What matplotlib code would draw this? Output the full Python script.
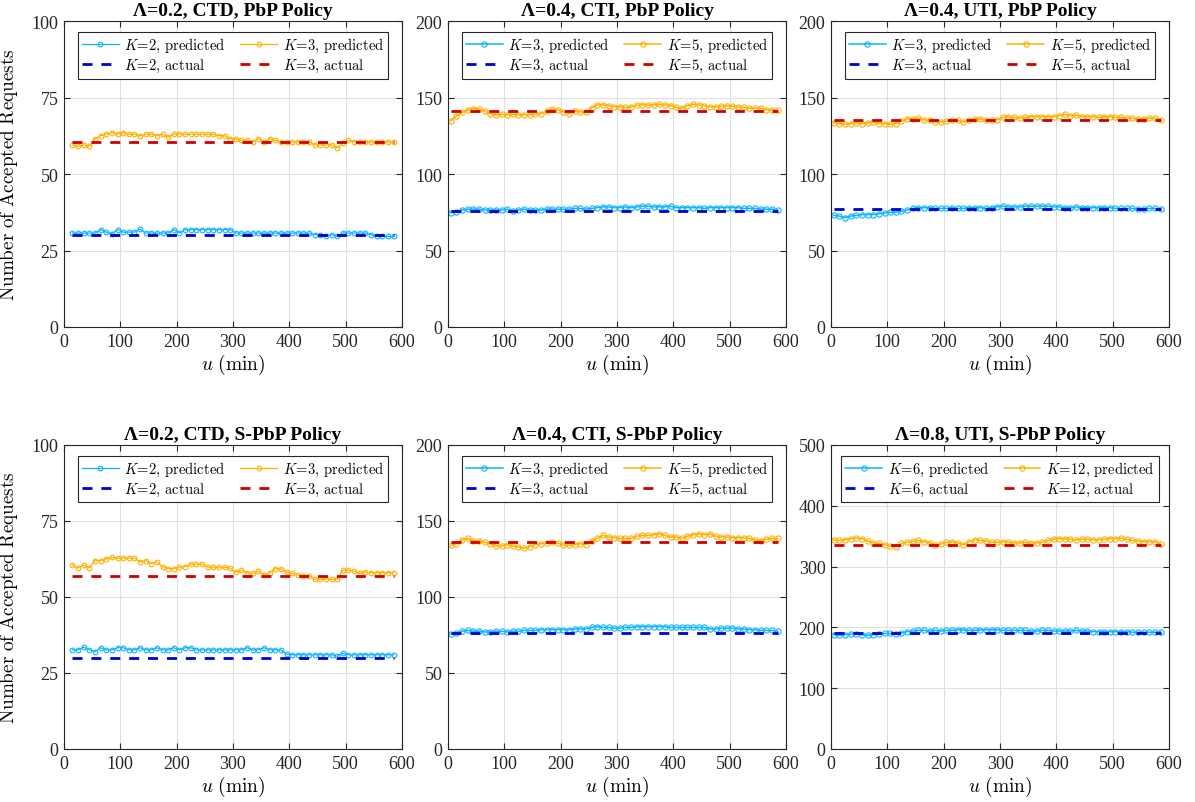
import matplotlib
matplotlib.use('Agg')
import matplotlib.pyplot as plt

plt.rcParams['font.family'] = ['Liberation Serif', 'DejaVu Serif']
plt.rcParams['mathtext.fontset'] = 'cm'

# time stamps (min)
u_sparse = [15, 25, 35, 45, 55, 65, 75, 85, 95, 105, 115, 125, 135, 145, 155, 165, 175, 185, 195, 205,
            215, 225, 235, 245, 255, 265, 275, 285, 295, 305, 315, 325, 335, 345, 355, 365, 375, 385, 395, 405,
            415, 425, 435, 445, 455, 465, 475, 485, 495, 505, 515, 525, 535, 545, 555, 565, 575, 585]
u_dense = [5, 15, 25, 35, 45, 55, 65, 75, 85, 95, 105, 115, 125, 135, 145, 155, 165, 175, 185, 195, 205,
           215, 225, 235, 245, 255, 265, 275, 285, 295, 305, 315, 325, 335, 345, 355, 365, 375, 385, 395, 405,
           415, 425, 435, 445, 455, 465, 475, 485, 495, 505, 515, 525, 535, 545, 555, 565, 575, 585]

# Lambda=0.2, CTD, PbP
pbp_ctd_lo = [30.7, 30.7, 30.7, 30.7, 30.7, 31.8, 31.0, 30.5, 31.8, 31.0, 31.0, 31.0, 32.0, 30.7, 30.7, 30.7,
              30.7, 30.7, 31.8, 30.7, 31.8, 31.8, 31.8, 31.8, 31.8, 31.8, 31.8, 31.8, 31.8, 30.7, 30.7, 30.7,
              30.7, 30.7, 30.7, 30.7, 30.7, 30.7, 30.7, 30.7, 30.7, 30.7, 30.7, 30.2, 30.2, 29.8, 30.2, 29.6,
              30.7, 30.7, 30.7, 30.7, 30.7, 30.2, 29.6, 29.6, 29.6, 29.6]
pbp_ctd_hi = [59.5, 59.0, 59.5, 59.0, 61.5, 62.5, 63.0, 63.5, 63.0, 63.5, 63.0, 63.0, 62.5, 63.0, 63.0, 62.5,
              63.0, 62.0, 63.0, 63.0, 63.0, 63.0, 63.0, 63.0, 63.0, 63.0, 62.5, 62.5, 61.5, 61.5, 61.0, 61.0,
              60.5, 61.5, 60.5, 61.5, 61.0, 60.5, 60.5, 60.5, 60.5, 60.5, 60.5, 59.5, 59.5, 59.5, 59.5, 58.5,
              60.0, 61.0, 60.5, 60.5, 60.5, 60.5, 60.5, 60.5, 60.5, 60.5]

# Lambda=0.4, CTI, PbP
pbp_cti_lo = [74.8, 75.0, 76.5, 77.0, 77.0, 77.0, 76.5, 76.5, 76.5, 76.5, 77.0, 76.0, 76.5, 77.0, 76.5, 76.5,
              76.5, 77.0, 77.0, 77.0, 77.0, 77.0, 77.5, 77.5, 77.0, 77.5, 78.0, 78.5, 78.5, 78.0, 78.0, 78.5,
              78.0, 78.5, 79.0, 79.0, 78.5, 78.5, 78.5, 79.0, 78.0, 78.0, 78.0, 78.0, 78.0, 77.5, 78.0, 78.0,
              78.0, 78.0, 78.0, 78.0, 77.5, 77.5, 77.5, 77.0, 77.0, 77.0, 76.5]
pbp_cti_hi = [134.7, 137.9, 140.2, 141.9, 142.8, 142.4, 141.2, 139.5, 138.6, 139.0, 138.6, 139.0, 138.6, 138.6,
              138.6, 139.0, 139.5, 141.2, 142.4, 141.9, 140.6, 139.5, 141.2, 140.6, 140.2, 143.1, 145.2, 145.2,
              144.6, 143.9, 143.9, 143.5, 143.9, 145.0, 145.2, 145.0, 145.2, 145.6, 145.2, 144.6, 143.5, 143.1,
              144.6, 145.6, 145.2, 144.6, 143.9, 143.9, 144.4, 144.4, 144.4, 143.9, 143.5, 143.1, 143.1, 143.1,
              141.9, 141.9, 141.9]

# Lambda=0.4, UTI, PbP
pbp_uti_lo = [73.0, 72.5, 71.5, 72.5, 73.0, 73.5, 73.5, 73.5, 74.0, 74.5, 75.0, 75.0, 75.5, 76.5, 77.5, 78.0,
              78.0, 78.0, 77.5, 77.5, 77.5, 78.0, 77.5, 77.5, 78.0, 78.0, 78.0, 77.5, 78.0, 78.5, 79.0, 78.5,
              78.5, 78.5, 79.0, 79.0, 79.0, 79.0, 79.0, 78.5, 78.5, 78.0, 78.0, 78.5, 78.0, 78.0, 78.0, 78.0,
              78.0, 78.0, 77.5, 77.5, 77.5, 77.5, 77.0, 77.0, 77.5, 77.5, 77.0]
pbp_uti_hi = [133.5, 133.0, 132.5, 133.0, 133.5, 133.0, 133.5, 134.0, 133.0, 133.0, 132.5, 133.0, 134.5, 136.0,
              136.0, 136.5, 135.5, 135.0, 134.0, 134.0, 134.5, 135.0, 135.0, 134.0, 135.5, 136.0, 136.0, 135.0,
              135.0, 135.5, 137.0, 137.5, 137.0, 136.5, 137.0, 137.5, 137.5, 137.5, 137.5, 137.5, 138.0, 139.0,
              138.0, 138.5, 137.5, 137.5, 137.5, 137.0, 137.5, 137.5, 137.0, 137.0, 136.5, 136.5, 136.0, 136.0,
              136.5, 136.5, 135.5]

# Lambda=0.2, CTD, S-PbP
spbp_ctd_lo = [32.6, 32.6, 33.5, 32.6, 32.0, 33.3, 32.6, 32.6, 33.3, 33.3, 32.6, 32.6, 33.3, 32.6, 32.6, 33.3,
               32.6, 32.6, 33.3, 32.6, 33.3, 33.3, 32.6, 32.6, 32.6, 32.6, 32.6, 32.6, 32.6, 32.6, 32.6, 33.3,
               32.6, 32.6, 33.3, 32.6, 32.6, 32.6, 31.2, 31.0, 31.0, 31.0, 31.0, 31.0, 31.0, 31.0, 31.0, 30.5,
               31.5, 31.0, 31.0, 31.0, 31.0, 31.0, 31.0, 31.0, 31.0, 31.0]
spbp_ctd_hi = [60.5, 59.5, 60.5, 59.5, 62.0, 62.0, 62.5, 63.0, 62.8, 62.8, 62.8, 62.8, 61.5, 62.0, 61.0, 61.5,
               60.0, 59.3, 59.3, 59.8, 60.0, 60.8, 60.8, 60.8, 59.8, 59.8, 59.8, 59.8, 59.5, 58.2, 58.8, 58.0,
               57.8, 58.5, 57.2, 58.0, 59.3, 59.3, 58.3, 57.8, 57.2, 57.0, 57.0, 55.8, 55.8, 56.0, 55.8, 55.8,
               58.8, 58.8, 58.5, 57.8, 58.2, 58.0, 58.0, 58.0, 58.0, 58.0]

# Lambda=0.4, CTI, S-PbP
spbp_cti_lo = [75.5, 76.5, 77.5, 78.0, 77.5, 77.5, 77.0, 77.0, 77.5, 77.5, 77.0, 77.5, 77.5, 78.0, 78.0, 78.0,
               78.5, 78.5, 78.5, 78.5, 78.5, 78.5, 79.0, 79.0, 79.0, 80.0, 80.5, 80.0, 80.0, 79.5, 79.5, 80.0,
               80.0, 80.5, 80.5, 80.5, 80.5, 80.5, 80.5, 80.0, 80.0, 80.0, 80.0, 80.0, 80.0, 80.0, 79.0, 79.0,
               79.5, 79.5, 79.5, 79.0, 79.0, 78.5, 78.5, 78.0, 78.0, 78.0, 77.5]
spbp_cti_hi = [134.0, 135.0, 137.5, 138.5, 137.0, 137.0, 136.0, 135.0, 133.5, 133.5, 134.5, 133.5, 133.0, 132.0,
               133.0, 134.5, 135.0, 135.5, 136.0, 135.5, 134.0, 134.0, 134.5, 135.0, 134.5, 137.0, 138.5, 140.5,
               139.5, 139.0, 138.5, 138.5, 138.5, 140.0, 140.5, 140.5, 141.0, 141.5, 140.5, 139.5, 139.5, 138.5,
               140.0, 141.0, 141.5, 141.0, 141.5, 140.0, 139.5, 139.5, 139.0, 139.0, 139.0, 138.5, 137.5, 137.0,
               138.0, 138.5, 138.5]

# Lambda=0.8, UTI, S-PbP
spbp_uti_lo = [188, 187, 188, 189, 189, 188, 187, 188, 189, 190, 190, 189, 191, 193, 194, 195, 195, 194, 195,
               194, 195, 195, 196, 196, 195, 195, 196, 196, 196, 196, 195, 195, 195, 195, 195, 194, 194, 195,
               195, 194, 194, 194, 194, 195, 194, 194, 193, 193, 193, 193, 193, 193, 193, 192, 192, 192, 192,
               192, 193]
spbp_uti_hi = [344, 343, 344, 346, 347, 346, 342, 339, 338, 336, 334, 333, 338, 340, 342, 343, 341, 339, 336,
               337, 340, 341, 339, 336, 341, 344, 343, 342, 340, 340, 341, 340, 339, 339, 340, 339, 339, 340,
               343, 345, 346, 346, 345, 344, 345, 345, 344, 344, 345, 346, 346, 347, 345, 343, 342, 341, 341,
               341, 337]

titles = ['Λ=0.2, CTD, PbP Policy', 'Λ=0.4, CTI, PbP Policy', 'Λ=0.4, UTI, PbP Policy',
          'Λ=0.2, CTD, S-PbP Policy', 'Λ=0.4, CTI, S-PbP Policy', 'Λ=0.8, UTI, S-PbP Policy']
k_values = [(2, 3), (3, 5), (3, 5), (2, 3), (3, 5), (6, 12)]
actual_values = [(30, 60.5), (76, 141), (77, 135), (30, 57), (76, 136), (190, 335)]
y_limits = [100, 200, 200, 100, 200, 500]
y_steps = [25, 50, 50, 25, 50, 100]

panels = [
    (u_sparse, pbp_ctd_lo, pbp_ctd_hi),
    (u_dense, pbp_cti_lo, pbp_cti_hi),
    (u_dense, pbp_uti_lo, pbp_uti_hi),
    (u_sparse, spbp_ctd_lo, spbp_ctd_hi),
    (u_dense, spbp_cti_lo, spbp_cti_hi),
    (u_dense, spbp_uti_lo, spbp_uti_hi),
]

c_lo_pred = '#0DB4FF'
c_hi_pred = '#FFB000'
c_lo_act = '#0000CC'
c_hi_act = '#D00000'

fig = plt.figure(figsize=(11.95, 8.03), dpi=100)

lefts = [64, 448, 831]
W = 338
rows = [(22, 328), (446, 750)]

for i, (u, lo, hi) in enumerate(panels):
    r, c = divmod(i, 3)
    top, bot = rows[r]
    ax = fig.add_axes([lefts[c] / 1195, 1 - bot / 803, W / 1195, (bot - top) / 803])

    k1, k2 = k_values[i]
    a1, a2 = actual_values[i]
    dense = u is u_dense
    ms = 3.8 if dense else 3.4
    lw = 1.1 if dense else 0.9

    h1, = ax.plot(u, lo, '-o', color=c_lo_pred, lw=lw, ms=ms, mfc='none', mew=0.8,
                  label=r'$K\!=\!%d,\,\mathrm{predicted}$' % k1)
    h2, = ax.plot([u[0], u[-1]], [a1, a1], '--', color=c_lo_act, lw=2.0, dashes=(3.6, 3.2),
                  label=r'$K\!=\!%d,\,\mathrm{actual}$' % k1)
    h3, = ax.plot(u, hi, '-o', color=c_hi_pred, lw=lw, ms=ms, mfc='none', mew=0.8,
                  label=r'$K\!=\!%d,\,\mathrm{predicted}$' % k2)
    h4, = ax.plot([u[0], u[-1]], [a2, a2], '--', color=c_hi_act, lw=2.0, dashes=(3.6, 3.2),
                  label=r'$K\!=\!%d,\,\mathrm{actual}$' % k2)

    ax.set_xlim(0, 600)
    ax.set_ylim(0, y_limits[i])
    ax.set_xticks(range(0, 601, 100))
    ax.set_yticks(range(0, y_limits[i] + 1, y_steps[i]))
    ax.tick_params(direction='in', top=True, right=True, labelsize=13, colors='#262626',
                   length=4, width=0.8, pad=4)
    for s in ax.spines.values():
        s.set_color('#262626')
        s.set_linewidth(0.8)
    ax.grid(True, color='#e0e0e0', lw=0.8)
    ax.set_axisbelow(True)

    ax.set_title(titles[i], fontsize=14, fontweight='bold', pad=4)
    ax.set_xlabel(r'$u\ \mathrm{(min)}$', fontsize=14, labelpad=2)
    if c == 0:
        ax.set_ylabel(r'$\mathrm{Number\ of\ Accepted\ Requests}$', fontsize=13.8, labelpad=8)

    leg = ax.legend(handles=[h1, h2, h3, h4], ncol=2, loc='upper center',
                    bbox_to_anchor=(0.5, 0.975), fontsize=10.5, frameon=True, fancybox=False,
                    framealpha=1, edgecolor='#262626', handlelength=2.5, columnspacing=1.0,
                    handletextpad=0.4, borderpad=0.3, labelspacing=0.2, borderaxespad=0.2)
    leg.get_frame().set_linewidth(0.8)

fig.savefig('out.png', dpi=100)
